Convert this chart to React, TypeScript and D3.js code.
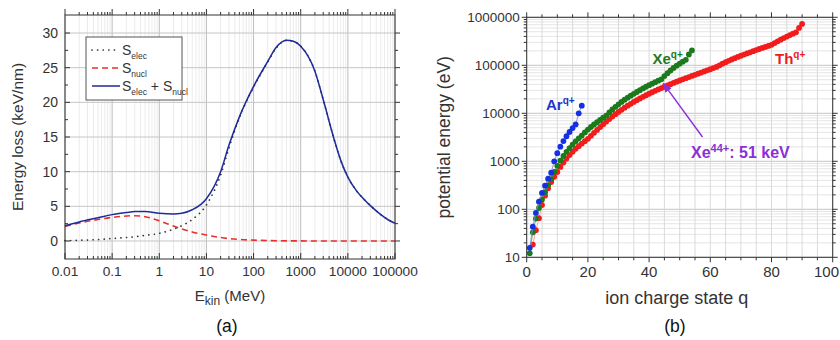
import React from 'react';
import * as d3 from 'd3';

// ---------- Panel (a) data ----------
const energies = [0.01, 0.02, 0.05, 0.1, 0.2, 0.3, 0.5, 1, 2, 3, 5, 10, 20, 30, 50, 100, 200, 300, 500, 700, 1000, 2000, 3000, 5000, 7000, 10000, 15000, 20000, 30000, 50000, 70000, 100000];
const sElec = [0.05, 0.1, 0.2, 0.35, 0.5, 0.6, 0.8, 1.1, 1.7, 2.2, 3.1, 5.2, 9.5, 13.4, 17.8, 22.2, 25.8, 27.8, 28.95, 28.8, 28.1, 24.5, 20.4, 14.9, 11.7, 9.2, 7.3, 6.3, 5.1, 3.8, 3.1, 2.55];
const sNucl = [2.1, 2.6, 3.1, 3.4, 3.6, 3.65, 3.5, 2.9, 2.15, 1.75, 1.3, 0.85, 0.5, 0.35, 0.22, 0.12, 0.06, 0.04, 0.02, 0.01, 0.01, 0, 0, 0, 0, 0, 0, 0, 0, 0, 0, 0];
const sTotal = [2.2, 2.75, 3.35, 3.8, 4.1, 4.25, 4.25, 4.0, 3.9, 4.0, 4.5, 6.1, 10.0, 13.8, 17.9, 22.3, 25.9, 27.9, 28.95, 28.8, 28.1, 24.5, 20.4, 14.9, 11.7, 9.2, 7.3, 6.3, 5.1, 3.8, 3.1, 2.55];
const xTicksA = [0.01, 0.1, 1, 10, 100, 1000, 10000, 100000];
const xTickLabelsA = ['0.01', '0.1', '1', '10', '100', '1000', '10000', '100000'];
const yTicksA = [0, 5, 10, 15, 20, 25, 30];
const yMinorA = [2.5, 7.5, 12.5, 17.5, 22.5, 27.5];

// ---------- Panel (b) data ----------
const arFirstQ = 1;
const arEnergy = [15.76, 43.39, 84.13, 143.9, 219.0, 310.0, 434.3, 577.8, 1000.2, 1478.9, 2017.9, 2636.1, 3322.2, 4078.0, 4932.7, 5850.8, 9971.7, 14397.9];
const xeFirstQ = 1;
const xeEnergy = [12.13, 33.11, 64.16, 106.4, 160.5, 227.2, 318.8, 424.8, 604.6, 806.6, 1036, 1291, 1572, 1886, 2229, 2603, 3007, 3441, 3990, 4572, 5188, 5838, 6538, 7274, 8092, 8949, 10442, 12013, 13666, 15408, 17234, 19153, 21176, 23289, 25498, 27798, 30354, 32991, 35717, 38528, 41400, 44600, 47800, 51000, 59500, 68500, 78000, 88000, 98000, 108000, 119000, 130000, 168000, 204000];
const thFirstQ = 2;
const thEnergy = [18.4, 36.7, 65.3, 123, 192, 274, 369, 477, 599, 765, 945, 1140, 1350, 1575, 1815, 2070, 2340, 2630, 2940, 3390, 3912, 4505, 5170, 5907, 6716, 7596, 8548, 9572, 10667, 11834, 13073, 14383, 15765, 17219, 18745, 20342, 22011, 23752, 25564, 27448, 29404, 31431, 33530, 35700, 38000, 40400, 42900, 45500, 48200, 51000, 53900, 56900, 60000, 63300, 66800, 70500, 74400, 78500, 82800, 87600, 92600, 100100, 107800, 115700, 123800, 132100, 140600, 149300, 158200, 167300, 176600, 186600, 196900, 207500, 218400, 229700, 241300, 253800, 266800, 290800, 315800, 341800, 368800, 396800, 425800, 455800, 486800, 600800, 728800];
const xTicksB = [0, 20, 40, 60, 80, 100];
const yTicksB = [10, 100, 1000, 10000, 100000, 1000000];
const annotQ = 44;
const annotE = 51000;

const FONT = '"Liberation Sans", Arial, Helvetica, sans-serif';

function PanelA() {
  const L = 65, R = 395, T = 15, B = 259;
  const x = d3.scaleLog().domain([0.01, 100000]).range([L, R]);
  const y = d3.scaleLinear().domain([-2.6, 32.6]).range([B, T]);
  const allX = x.ticks();
  const isMajor = (v: number) => Math.abs(Math.log10(v) - Math.round(Math.log10(v))) < 1e-9;
  const minorX = allX.filter((v) => !isMajor(v));
  const line = (vals: number[]) =>
    d3.line<number>().x((_, i) => x(energies[i])).y((d) => y(d)).curve(d3.curveMonotoneX)(vals) || '';
  return (
    <g fontFamily={FONT}>
      {minorX.map((v, i) => (
        <line key={'gx' + i} x1={x(v)} x2={x(v)} y1={T} y2={B} stroke="#e6e6e6" strokeWidth={0.8} />
      ))}
      {xTicksA.map((v, i) => (
        <line key={'gX' + i} x1={x(v)} x2={x(v)} y1={T} y2={B} stroke="#bdbdbd" strokeWidth={1} />
      ))}
      {yTicksA.map((v, i) => (
        <line key={'gY' + i} x1={L} x2={R} y1={y(v)} y2={y(v)} stroke="#c6c6c6" strokeWidth={1} />
      ))}
      <path d={line(sNucl)} fill="none" stroke="#e8302a" strokeWidth={1.6} strokeDasharray="6 4" />
      <path d={line(sElec)} fill="none" stroke="#333" strokeWidth={1.7} strokeDasharray="0.1 5.5" strokeLinecap="round" />
      <path d={line(sTotal)} fill="none" stroke="#1f2a9c" strokeWidth={1.5} />
      <rect x={L} y={T} width={R - L} height={B - T} fill="none" stroke="#333" strokeWidth={1} />
      {xTicksA.map((v, i) => (
        <g key={'tx' + i}>
          <line x1={x(v)} x2={x(v)} y1={B} y2={B - 6} stroke="#333" />
          <line x1={x(v)} x2={x(v)} y1={T} y2={T - 6} stroke="#333" />
          <text x={x(v)} y={B + 17} textAnchor="middle" fontSize={13.7} fill="#333">{xTickLabelsA[i]}</text>
        </g>
      ))}
      {minorX.map((v, i) => (
        <g key={'mx' + i}>
          <line x1={x(v)} x2={x(v)} y1={B} y2={B - 3} stroke="#333" />
          <line x1={x(v)} x2={x(v)} y1={T} y2={T - 3} stroke="#333" />
        </g>
      ))}
      {yTicksA.map((v, i) => (
        <g key={'ty' + i}>
          <line x1={L} x2={L + 5} y1={y(v)} y2={y(v)} stroke="#333" />
          <line x1={R} x2={R + 5} y1={y(v)} y2={y(v)} stroke="#333" />
          <text x={L - 7} y={y(v) + 5} textAnchor="end" fontSize={14} fill="#333">{v}</text>
        </g>
      ))}
      {yMinorA.map((v, i) => (
        <g key={'my' + i}>
          <line x1={L} x2={L + 3} y1={y(v)} y2={y(v)} stroke="#333" />
          <line x1={R} x2={R + 3} y1={y(v)} y2={y(v)} stroke="#333" />
        </g>
      ))}
      <rect x={86} y={37} width={96} height={63} fill="#fff" stroke="#555" strokeWidth={1} />
      <line x1={92} x2={118} y1={50} y2={50} stroke="#333" strokeWidth={1.7} strokeDasharray="0.1 5.5" strokeLinecap="round" />
      <line x1={92} x2={120} y1={68} y2={68} stroke="#e8302a" strokeWidth={1.6} strokeDasharray="6 4" />
      <line x1={92} x2={120} y1={86} y2={86} stroke="#1f2a9c" strokeWidth={1.5} />
      <text x={122} y={55} fontSize={14} fill="#333">S<tspan fontSize={8.5} dy={4}>elec</tspan></text>
      <text x={122} y={73} fontSize={14} fill="#333">S<tspan fontSize={8.5} dy={4}>nucl</tspan></text>
      <text x={122} y={91} fontSize={14} fill="#333">S<tspan fontSize={8.5} dy={4}>elec</tspan><tspan dy={-4}> + S</tspan><tspan fontSize={8.5} dy={4}>nucl</tspan></text>
      <text transform={`translate(23,${(T + B) / 2}) rotate(-90)`} textAnchor="middle" fontSize={15.5} fill="#333">Energy loss (keV/nm)</text>
      <text x={(L + R) / 2} y={301} textAnchor="middle" fontSize={15} fill="#333">E<tspan fontSize={12} dy={4}>kin</tspan><tspan dy={-4}> (MeV)</tspan></text>
      <text x={227} y={332} textAnchor="middle" fontSize={17.5} fill="#111">(a)</text>
    </g>
  );
}

function PanelB() {
  const L = 526.7, R = 832.7, T = 17.3, B = 257.3;
  const x = d3.scaleLinear().domain([0, 100]).range([L, R]);
  const y = d3.scaleLog().domain([10, 1000000]).range([B, T]);
  const allY = y.ticks();
  const isMajor = (v: number) => Math.abs(Math.log10(v) - Math.round(Math.log10(v))) < 1e-9;
  const minorY = allY.filter((v) => !isMajor(v));
  const gridX = d3.range(0, 101, 5);
  const series = [
    { first: thFirstQ, vals: thEnergy, dot: '#f21c1c', ln: '#f39a9a' },
    { first: xeFirstQ, vals: xeEnergy, dot: '#1b7a1b', ln: '#6fa86f' },
    { first: arFirstQ, vals: arEnergy, dot: '#1530e0', ln: '#7a8fe0' },
  ];
  const tipX = x(annotQ) + 2;
  const tipY = y(annotE) + 4;
  return (
    <g fontFamily={FONT}>
      <defs>
        <clipPath id="clipB"><rect x={L} y={T - 6} width={R - L} height={B - T + 6} /></clipPath>
        <marker id="arrowP" viewBox="0 0 10 10" refX="9" refY="5" markerWidth="7" markerHeight="7" orient="auto">
          <path d="M0,1 L10,5 L0,9 z" fill="#8b2fd6" />
        </marker>
      </defs>
      {minorY.map((v, i) => (
        <line key={'gy' + i} x1={L} x2={R} y1={y(v)} y2={y(v)} stroke="#e2e2e2" strokeWidth={0.9} />
      ))}
      {yTicksB.map((v, i) => (
        <line key={'gY' + i} x1={L} x2={R} y1={y(v)} y2={y(v)} stroke="#c4c4c4" strokeWidth={1} />
      ))}
      {gridX.map((v, i) => (
        <line key={'gx' + i} x1={x(v)} x2={x(v)} y1={T} y2={B} stroke="#d6d6d6" strokeWidth={0.9} />
      ))}
      <g clipPath="url(#clipB)">
        {series.map((s, si) => {
          const pts = s.vals.map((v, i) => [x(s.first + i), y(v)] as [number, number]);
          return (
            <g key={'s' + si}>
              <path d={d3.line()(pts) || ''} fill="none" stroke={s.ln} strokeWidth={0.9} />
              {pts.map((p, i) => (
                <circle key={i} cx={p[0]} cy={p[1]} r={2.9} fill={s.dot} />
              ))}
            </g>
          );
        })}
      </g>
      <rect x={L} y={T} width={R - L} height={B - T} fill="none" stroke="#333" strokeWidth={1} />
      {gridX.map((v, i) => {
        const major = v % 20 === 0;
        return (
          <g key={'tx' + i}>
            <line x1={x(v)} x2={x(v)} y1={B} y2={B + (major ? 5 : 3)} stroke="#333" />
            <line x1={x(v)} x2={x(v)} y1={T} y2={T - (major ? 5 : 3)} stroke="#333" />
          </g>
        );
      })}
      {xTicksB.map((v, i) => {
        const last = i === xTicksB.length - 1;
        return (
          <text key={'lx' + i} x={last ? 839 : x(v)} y={B + 20} textAnchor={last ? 'end' : 'middle'} fontSize={15} fill="#333">{v}</text>
        );
      })}
      {minorY.map((v, i) => (
        <g key={'my' + i}>
          <line x1={L} x2={L - 3} y1={y(v)} y2={y(v)} stroke="#333" />
          <line x1={R} x2={R + 3} y1={y(v)} y2={y(v)} stroke="#333" />
        </g>
      ))}
      {yTicksB.map((v, i) => (
        <g key={'ty' + i}>
          <line x1={L} x2={L - 5} y1={y(v)} y2={y(v)} stroke="#333" />
          <line x1={R} x2={R + 5} y1={y(v)} y2={y(v)} stroke="#333" />
          <text x={L - 7} y={y(v) + 4.5} textAnchor="end" fontSize={13.5} fill="#333">{d3.format('d')(v)}</text>
        </g>
      ))}
      <text x={546} y={110} fontSize={15} fontWeight="bold" fill="#1f35c8">Ar<tspan fontSize={10} dy={-6}>q+</tspan></text>
      <text x={652.5} y={64} fontSize={15} fontWeight="bold" fill="#1d7a1d">Xe<tspan fontSize={10} dy={-6}>q+</tspan></text>
      <text x={775} y={64} fontSize={15} fontWeight="bold" fill="#ea1c1c">Th<tspan fontSize={10} dy={-6}>q+</tspan></text>
      <line x1={702.5} y1={137} x2={tipX} y2={tipY} stroke="#8b2fd6" strokeWidth={1.4} markerEnd="url(#arrowP)" />
      <text x={691} y={158} fontSize={16} fontWeight="bold" fill="#8b2fd6">Xe<tspan fontSize={11} dy={-6}>44+</tspan><tspan dy={6}>: 51 keV</tspan></text>
      <text transform={`translate(450,${(T + B) / 2}) rotate(-90)`} textAnchor="middle" fontSize={17.5} fill="#333">potential energy (eV)</text>
      <text x={(L + R) / 2 - 3} y={304} textAnchor="middle" fontSize={18} fill="#333">ion charge state q</text>
      <text x={675} y={332} textAnchor="middle" fontSize={17.5} fill="#111">(b)</text>
    </g>
  );
}

export default function App() {
  return (
    <svg width={840} height={340} viewBox="0 0 840 340" style={{ position: 'absolute', left: 0, top: 0, background: '#fff' }}>
      <rect x={0} y={0} width={840} height={340} fill="#fff" />
      <PanelA />
      <PanelB />
    </svg>
  );
}
